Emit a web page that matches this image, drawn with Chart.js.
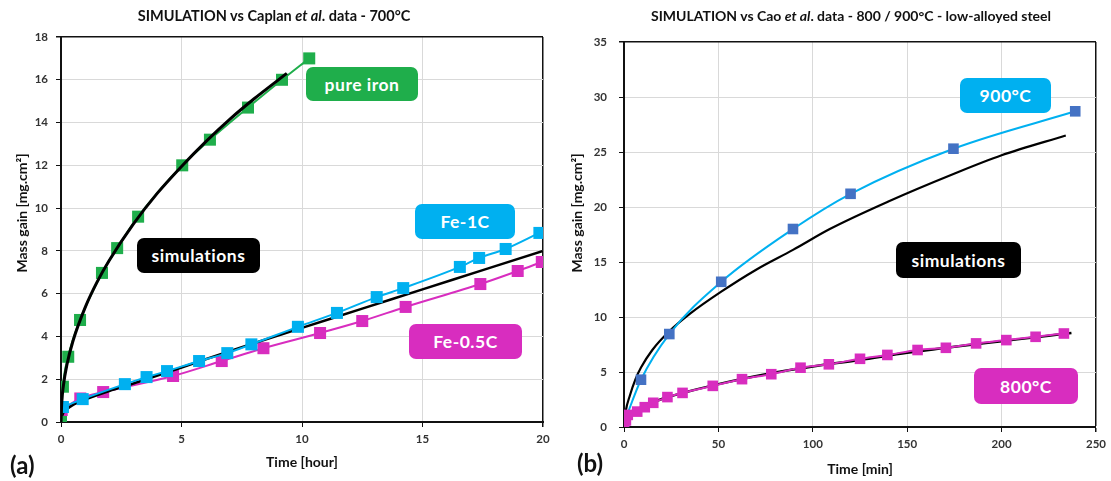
<!DOCTYPE html>
<html><head><meta charset="utf-8">
<script src="https://cdn.jsdelivr.net/npm/chart.js@4"></script>
<style>
body{margin:0;width:1111px;height:481px;background:#fff;position:relative;overflow:hidden;font-family:Lato,"Open Sans",sans-serif}
canvas{position:absolute;top:0}
#ca{left:0}
#cb{left:556px}
.ttl{position:absolute;top:7px;font-weight:bold;font-size:14px;color:#111;white-space:nowrap;transform:translateX(-50%)}
.ttl.a{font-size:14.5px}
.box{position:absolute;color:#fff;font-weight:bold;font-size:17.5px;letter-spacing:0.5px;border-radius:7px;display:flex;align-items:center;justify-content:center}
.pl{position:absolute;font-weight:bold;font-size:24px;color:#111}
.yt{position:absolute;font-weight:bold;font-size:14px;color:#111;white-space:nowrap;transform:translate(-50%,-50%) rotate(-90deg)}
</style>
</head><body>
<canvas id="ca" width="556" height="481"></canvas>
<canvas id="cb" width="555" height="481"></canvas>
<div class="ttl a" style="left:274px">SIMULATION vs Caplan <i>et al</i>. data - 700°C</div>
<div class="ttl" style="left:851px">SIMULATION vs Cao <i>et al</i>. data - 800 / 900°C - low-alloyed steel</div>
<div class="yt" style="left:21px;top:213px">Mass gain [mg.cm²]</div>
<div class="yt" style="left:576px;top:213px">Mass gain [mg.cm²]</div>
<div class="box" style="left:306px;top:67px;width:112px;height:34px;background:#1fae4b">pure iron</div>
<div class="box" style="left:137px;top:238px;width:123px;height:35px;background:#000">simulations</div>
<div class="box" style="left:415px;top:204px;width:100px;height:35px;background:#00b0f0">Fe-1C</div>
<div class="box" style="left:409px;top:324px;width:113px;height:35px;background:#d82dbf">Fe-0.5C</div>
<div class="box" style="left:960px;top:78px;width:91px;height:35px;background:#00b0f0">900°C</div>
<div class="box" style="left:896px;top:242px;width:125px;height:36px;background:#000">simulations</div>
<div class="box" style="left:974px;top:368px;width:104px;height:36px;background:#d82dbf">800°C</div>
<div class="pl" style="left:10px;top:450px">(a)</div>
<div class="pl" style="left:577px;top:448px">(b)</div>
<script>
// ---- Panel (a): Caplan et al., 700°C (time in hours, mass gain mg.cm^-2)
const ironT   = [0, 0.08, 0.3, 0.79, 1.7, 2.33, 3.2, 5.03, 6.18, 7.76, 9.17, 10.3];
const ironM   = [0, 1.65, 3.05, 4.77, 6.97, 8.13, 9.6, 12.0, 13.2, 14.7, 16.0, 17.0];
const simIronT = [0, 0.03, 0.1, 0.25, 0.5, 1, 1.5, 2, 3, 4, 5, 6, 7, 8, 9.37];
const simIronM = [0, 0.9, 1.7, 2.7, 3.8, 5.35, 6.55, 7.55, 9.25, 10.7, 11.95, 13.1, 14.15, 15.1, 16.3];
const fe1cT = [0.08, 0.9, 2.65, 3.55, 4.4, 5.73, 6.9, 7.9, 9.83, 11.45, 13.1, 14.2, 16.55, 17.35, 18.45, 19.85];
const fe1cM = [0.7, 1.07, 1.77, 2.1, 2.38, 2.85, 3.22, 3.63, 4.45, 5.1, 5.84, 6.26, 7.25, 7.67, 8.09, 8.84];
const fe05T = [0.03, 0.8, 1.75, 4.65, 6.67, 8.4, 10.75, 12.5, 14.3, 17.4, 18.95, 19.95];
const fe05M = [0.56, 1.1, 1.4, 2.15, 2.85, 3.45, 4.16, 4.72, 5.38, 6.45, 7.06, 7.48];
const simFeCT = [0, 0.05, 0.2, 0.5, 1, 2, 3, 5, 7.5, 10, 12.5, 15, 17.5, 20];
const simFeCM = [0, 0.3, 0.55, 0.8, 1.05, 1.45, 1.8, 2.55, 3.5, 4.4, 5.3, 6.2, 7.1, 8.0];
const aXTicks = [0, 5, 10, 15, 20];
const aYTicks = [0, 2, 4, 6, 8, 10, 12, 14, 16, 18];

// ---- Panel (b): Cao et al., 800 / 900°C (time in min)
const c900T = [0, 9, 24, 51.5, 89.5, 120, 174.5, 239];
const c900M = [0.36, 4.3, 8.45, 13.2, 18.0, 21.2, 25.3, 28.7];
const s900T = [0, 1, 3, 6, 9, 15, 24, 35, 51.5, 70, 89.5, 109, 140, 174.5, 200, 234];
const s900M = [0, 1.5, 2.8, 4.3, 5.4, 7.0, 8.7, 10.3, 12.3, 14.3, 16.1, 18.0, 20.5, 23.0, 24.7, 26.5];
const c800T = [0, 1, 2, 7, 11, 15.5, 23, 31, 47, 62.5, 78, 93.5, 108.5, 125, 139.5, 155.5, 170.5, 186.5, 202.5, 218, 233];
const c800M = [0.2, 0.6, 1.1, 1.4, 1.8, 2.2, 2.72, 3.1, 3.74, 4.35, 4.8, 5.39, 5.7, 6.2, 6.55, 7.0, 7.2, 7.6, 7.9, 8.2, 8.5];
const s800T = [0, 2, 5, 10, 20, 30, 50, 75, 100, 125, 150, 175, 200, 225, 237];
const s800M = [0, 0.9, 1.4, 1.85, 2.55, 3.05, 3.9, 4.8, 5.5, 6.1, 6.75, 7.3, 7.8, 8.3, 8.55];
const bXTicks = [0, 50, 100, 150, 200, 250];
const bYTicks = [0, 5, 10, 15, 20, 25, 30, 35];

const GREEN = '#1fae4b', CYAN = '#00b0f0', MAG = '#d82dbf', BLUE = '#4472c4';
const xy = (t, m) => t.map((v, i) => ({x: v, y: m[i]}));

function sim(t, m, w, order) {
  return {data: xy(t, m), borderColor: '#000', borderWidth: w, pointRadius: 0, cubicInterpolationMode: 'monotone', order: order, showLine: true};
}
function meas(t, m, line, mark, r, order) {
  return {data: xy(t, m), borderColor: line, borderWidth: 2, pointStyle: 'rect', pointRadius: r,
    pointBackgroundColor: mark, pointBorderColor: mark, pointBorderWidth: 0, cubicInterpolationMode: 'monotone', order: order, showLine: true};
}
function scales(xt, yt, yW, xH, xTitle, xTitlePad, yPad) {
  const tickFont = {family: 'Lato', weight: 'bold', size: 11.5};
  const titleFont = {family: 'Lato', weight: 'bold', size: 14};
  const xMax = xt[xt.length - 1], yMax = yt[yt.length - 1];
  return {
    x: {type: 'linear', min: xt[0], max: xMax,
      afterBuildTicks: s => { s.ticks = xt.map(v => ({value: v})); },
      afterFit: s => { s.height = xH; },
      ticks: {font: tickFont, color: '#333', padding: 5, maxRotation: 0},
      grid: {color: c => c.tick && c.tick.value === xMax ? '#111' : '#d9d9d9', lineWidth: c => c.tick && c.tick.value === xMax ? 1.5 : 1,
        tickColor: '#111', tickLength: 5},
      border: {color: '#111', width: 2},
      title: {display: true, text: xTitle, font: titleFont, color: '#111', padding: {top: 2, bottom: xTitlePad}}
    },
    y: {type: 'linear', min: yt[0], max: yMax,
      afterBuildTicks: s => { s.ticks = yt.map(v => ({value: v})); },
      afterFit: s => { s.width = yW; },
      ticks: {font: tickFont, color: '#333', padding: yPad},
      grid: {color: c => c.tick && c.tick.value === yMax ? '#111' : '#d9d9d9', lineWidth: c => c.tick && c.tick.value === yMax ? 1.5 : 1,
        tickColor: '#111', tickLength: 5},
      border: {color: '#111', width: 2},
      title: {display: false}
    }
  };
}
const common = {responsive: false, animation: false, events: [],
  plugins: {legend: {display: false}, tooltip: {enabled: false}, title: {display: false}}};

new Chart(document.getElementById('ca'), {
  type: 'scatter',
  data: {datasets: [
    sim(simIronT, simIronM, 3, 1),
    meas(ironT, ironM, GREEN, GREEN, 8.5, 2),
    meas(fe1cT, fe1cM, CYAN, CYAN, 8.5, 3),
    sim(simFeCT, simFeCM, 2.5, 4),
    meas(fe05T, fe05M, MAG, MAG, 8.5, 5)
  ]},
  options: Object.assign({}, common, {
    layout: {padding: {left: 0, right: 13, top: 37, bottom: 0}},
    scales: scales(aXTicks, aYTicks, 61, 59, 'Time [hour]', 10, 8)
  })
});

new Chart(document.getElementById('cb'), {
  type: 'scatter',
  data: {datasets: [
    meas(c800T, c800M, MAG, MAG, 7.5, 1),
    sim(s800T, s800M, 2.5, 2),
    meas(c900T, c900M, CYAN, BLUE, 7.5, 3),
    sim(s900T, s900M, 2.2, 4)
  ]},
  options: Object.assign({}, common, {
    layout: {padding: {left: 0, right: 14, top: 42, bottom: 0}},
    scales: scales(bXTicks, bYTicks, 68, 54, 'Time [min]', 3, 12)
  })
});
</script>
</body></html>
